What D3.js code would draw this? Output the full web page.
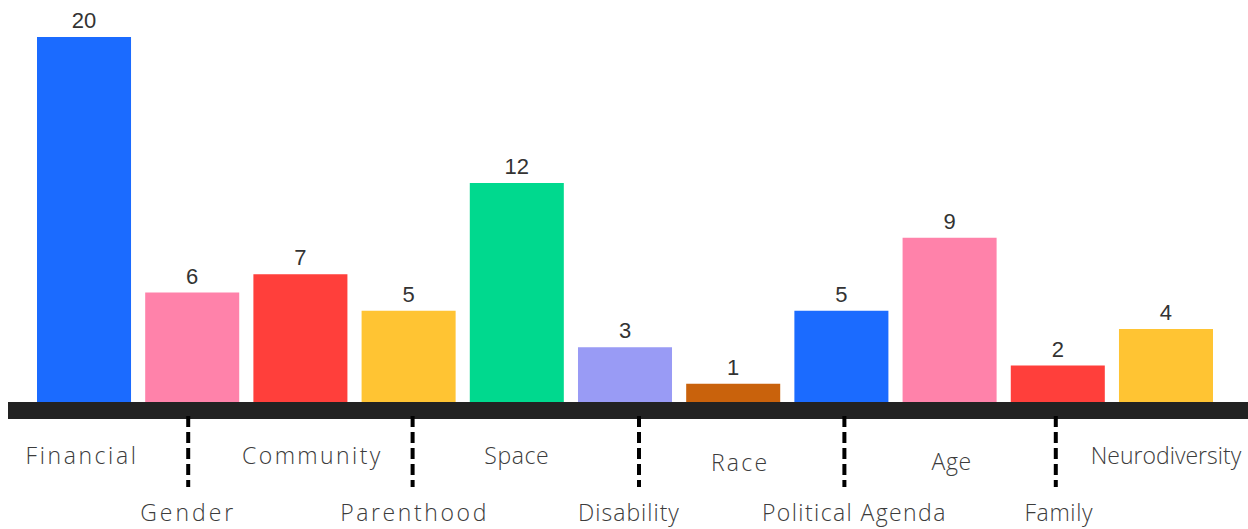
<!DOCTYPE html>
<html>
<head>
<meta charset="utf-8">
<script src="https://cdn.jsdelivr.net/npm/d3@7"></script>
<style>
  html, body { margin: 0; padding: 0; background: #fff; }
  svg { display: block; }
</style>
</head>
<body>
<svg id="chart" width="1248" height="529"></svg>
<script>
// Categories and counts
const categories = ["Financial", "Gender", "Community", "Parenthood", "Space", "Disability",
                    "Race", "Political Agenda", "Age", "Family", "Neurodiversity"];
const counts = [20, 6, 7, 5, 12, 3, 1, 5, 9, 2, 4];
const colors = ["#1b6bff", "#ff82aa", "#ff3f3b", "#ffc433", "#00d98e", "#999bf5",
                "#c9620c", "#1b6bff", "#ff82aa", "#ff3f3b", "#ffc433"];

// Label typography / placement tweaks (row 0 = upper, row 1 = lower)
const labelStyle = {
  "Financial":        { dx: -2,  dy: 0, ls: 2.6 },
  "Gender":           { dx: -4,  dy: 0, ls: 3.0 },
  "Community":        { dx: 12,  dy: 0, ls: 2.4 },
  "Parenthood":       { dx: 6,   dy: 0, ls: 2.6 },
  "Space":            { dx: 0,   dy: 0, ls: 0.6 },
  "Disability":       { dx: 4,   dy: 0, ls: 1.0 },
  "Race":             { dx: 7,   dy: 7, ls: 2.3 },
  "Political Agenda": { dx: 13,  dy: 0, ls: 1.4 },
  "Age":              { dx: 2,   dy: 6, ls: 0.6 },
  "Family":           { dx: 1,   dy: 0, ls: 0.6 },
  "Neurodiversity":   { dx: 0,   dy: 0, ls: 0 }
};
// Dashed separators under the lower-row labels
const dashOffset = { "Gender": -4, "Parenthood": 4, "Disability": 14, "Political Agenda": 3, "Family": -2 };

const svg = d3.select("#chart");

const x = d3.scaleBand()
  .domain(categories)
  .range([37, 1213])
  .paddingInner(0.131)
  .paddingOuter(0);

const baseY = 402;
const y = d3.scaleLinear().domain([0, 20]).range([baseY, 37]);

// Bars
svg.append("g").selectAll("rect")
  .data(categories)
  .join("rect")
  .attr("x", d => x(d))
  .attr("y", (d, i) => y(counts[i]))
  .attr("width", x.bandwidth())
  .attr("height", (d, i) => baseY - y(counts[i]))
  .attr("fill", (d, i) => colors[i]);

// Value labels
svg.append("g").selectAll("text")
  .data(categories)
  .join("text")
  .attr("x", d => x(d) + x.bandwidth() / 2)
  .attr("y", (d, i) => y(counts[i]) - 9)
  .attr("text-anchor", "middle")
  .attr("font-family", "Liberation Sans, Arial, sans-serif")
  .attr("font-size", 22)
  .attr("fill", "#333")
  .text((d, i) => counts[i]);

// Thick baseline
svg.append("rect")
  .attr("x", 8).attr("y", baseY)
  .attr("width", 1240).attr("height", 17)
  .attr("fill", "#222");

// Dashed separators
svg.append("g").selectAll("line")
  .data(categories.filter((d, i) => i % 2 === 1))
  .join("line")
  .attr("x1", d => x(d) + x.bandwidth() / 2 + dashOffset[d])
  .attr("x2", d => x(d) + x.bandwidth() / 2 + dashOffset[d])
  .attr("y1", 416).attr("y2", 487)
  .attr("stroke", "#000")
  .attr("stroke-width", 4)
  .attr("stroke-dasharray", "11,5");

// Category labels, alternating rows
svg.append("g").selectAll("text")
  .data(categories)
  .join("text")
  .attr("x", d => x(d) + x.bandwidth() / 2 + labelStyle[d].dx)
  .attr("y", (d, i) => (i % 2 === 0 ? 464 : 521) + labelStyle[d].dy)
  .attr("text-anchor", "middle")
  .attr("font-family", "'Open Sans', sans-serif")
  .attr("font-weight", 300)
  .attr("font-size", 23)
  .attr("letter-spacing", d => labelStyle[d].ls)
  .attr("fill", "#3c3c3c")
  .text(d => d);
</script>
</body>
</html>
